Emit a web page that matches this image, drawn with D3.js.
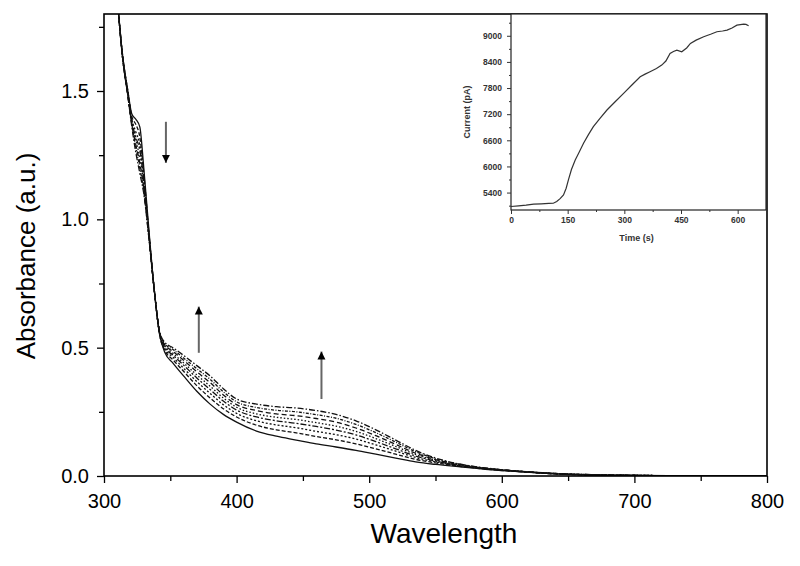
<!DOCTYPE html>
<html><head><meta charset="utf-8">
<script src="https://cdn.jsdelivr.net/npm/d3@7"></script>
<style>body{margin:0;background:#fff}svg{display:block}text{font-family:"Liberation Sans",Arial,sans-serif}</style>
</head><body><svg id="c" width="800" height="566"></svg>
<script>
// ---- main spectra data ----
const wavelengths = [306,310,314,318,321,324,327,330,334,338,342,346,352,360,370,380,390,400,415,430,445,460,475,490,505,520,535,550,570,590,610,640,680,740,800];
const spectrum0 = [2.10,1.86,1.64,1.50,1.41,1.39,1.36,1.20,0.95,0.72,0.55,0.48,0.44,0.39,0.33,0.28,0.24,0.21,0.175,0.155,0.14,0.125,0.113,0.10,0.085,0.07,0.055,0.045,0.035,0.025,0.018,0.008,0.003,0.001,0];
const spectrum1 = [2.10,1.86,1.64,1.50,1.40,1.37,1.32,1.18,0.94,0.72,0.55,0.489,0.453,0.408,0.352,0.304,0.262,0.230,0.198,0.180,0.168,0.154,0.141,0.125,0.106,0.085,0.065,0.051,0.037,0.026,0.018,0.008,0.003,0.001,0];
const spectrum2 = [2.10,1.86,1.64,1.49,1.39,1.34,1.29,1.16,0.94,0.72,0.55,0.495,0.463,0.420,0.368,0.322,0.278,0.244,0.215,0.199,0.188,0.174,0.161,0.144,0.121,0.097,0.072,0.055,0.039,0.027,0.019,0.009,0.003,0.001,0];
const spectrum3 = [2.10,1.86,1.63,1.49,1.38,1.32,1.27,1.15,0.93,0.72,0.555,0.501,0.471,0.432,0.382,0.337,0.292,0.257,0.230,0.215,0.205,0.193,0.179,0.160,0.134,0.106,0.078,0.058,0.040,0.028,0.019,0.009,0.003,0.001,0];
const spectrum4 = [2.10,1.86,1.63,1.49,1.38,1.31,1.24,1.14,0.93,0.72,0.555,0.506,0.478,0.441,0.394,0.350,0.304,0.268,0.242,0.229,0.220,0.208,0.194,0.174,0.146,0.115,0.084,0.061,0.041,0.028,0.019,0.009,0.004,0.001,0];
const spectrum5 = [2.10,1.86,1.63,1.48,1.37,1.29,1.22,1.12,0.93,0.72,0.56,0.510,0.486,0.451,0.406,0.364,0.316,0.278,0.255,0.242,0.235,0.224,0.210,0.187,0.157,0.123,0.089,0.064,0.043,0.029,0.020,0.010,0.004,0.001,0];
const spectrum6 = [2.10,1.86,1.63,1.48,1.37,1.28,1.20,1.11,0.92,0.72,0.56,0.515,0.493,0.460,0.418,0.377,0.328,0.289,0.267,0.256,0.250,0.239,0.225,0.201,0.169,0.132,0.095,0.067,0.044,0.029,0.020,0.010,0.004,0.001,0];
const spectrum7 = [2.10,1.86,1.63,1.48,1.36,1.26,1.18,1.10,0.92,0.72,0.56,0.52,0.50,0.47,0.43,0.39,0.34,0.30,0.28,0.27,0.265,0.255,0.24,0.215,0.18,0.14,0.10,0.07,0.045,0.03,0.020,0.010,0.004,0.001,0];
const spectra = [spectrum0,spectrum1,spectrum2,spectrum3,spectrum4,spectrum5,spectrum6,spectrum7];
const dashes = [null,"4,2","2,2","6,2,2,2","1.5,2","5,3","3,1.5,1,1.5","6,2,1.5,2"];
const xTicks = [300,400,500,600,700,800];
const yTicks = [0.0,0.5,1.0,1.5];
// arrows: [wavelength, from absorbance, to absorbance]
const arrows = [[346.7,1.38,1.22],[371.5,0.48,0.66],[464,0.30,0.485]];

// ---- inset data ----
const insetTime = [0,20,40,60,80,100,112,121,130,139,146,152,160,170,180,192,205,218,235,254,275,298,320,342,355,368,385,399,410,421,430,439,452,465,475,490,510,530,545,560,572,585,598,607,616,622,629];
const insetCurrent = [5080,5095,5110,5133,5140,5150,5155,5194,5260,5346,5500,5690,5930,6149,6320,6531,6730,6913,7100,7296,7480,7678,7870,8060,8120,8175,8250,8327,8420,8595,8640,8671,8633,8720,8824,8900,8977,9040,9092,9110,9130,9180,9244,9255,9267,9260,9229];
const insetXTicks = [0,150,300,450,600];
const insetYTicks = [5400,6000,6600,7200,7800,8400,9000];

const svg = d3.select("#c");
const X0=104, X1=767, Y0=476, Y1=14;
const x = d3.scaleLinear().domain([300,800]).range([X0,X1]);
const y = d3.scaleLinear().domain([0,1.8]).range([Y0,Y1]);

svg.append("defs").append("clipPath").attr("id","clip").append("rect")
  .attr("x",X0).attr("y",Y1).attr("width",X1-X0).attr("height",Y0-Y1);
svg.append("defs").append("marker").attr("id","ah").attr("viewBox","0 0 10 10")
  .attr("refX",10).attr("refY",5).attr("markerWidth",8).attr("markerHeight",12)
  .attr("markerUnits","userSpaceOnUse").attr("orient","auto")
  .append("path").attr("d","M0,0 L10,5 L0,10 Z").attr("fill","#000");

const line = d3.line().x((d,i)=>x(wavelengths[i])).y(d=>y(d)).curve(d3.curveMonotoneX);
const g = svg.append("g").attr("clip-path","url(#clip)");
spectra.forEach((s,i)=>{
  g.append("path").attr("d",line(s)).attr("fill","none").attr("stroke","#111")
   .attr("stroke-width",1.3).attr("stroke-dasharray",dashes[i]);
});

arrows.forEach(a=>{
  svg.append("line").attr("x1",x(a[0])).attr("x2",x(a[0])).attr("y1",y(a[1])).attr("y2",y(a[2]))
    .attr("stroke","#666").attr("stroke-width",2).attr("marker-end","url(#ah)");
});

// axes
const xAxis = d3.axisBottom(x).tickValues(xTicks).tickSize(7).tickFormat(d3.format("d"));
const xMinor = d3.axisBottom(x).tickValues([350,450,550,650,750]).tickSize(5).tickFormat("");
const yAxis = d3.axisLeft(y).tickValues(yTicks).tickSize(7).tickFormat(d3.format(".1f"));
const yMinor = d3.axisLeft(y).tickValues([0.25,0.75,1.25,1.75]).tickSize(5).tickFormat("");
function style(sel,fs){
  sel.select(".domain").remove();
  sel.selectAll("line").attr("stroke","#000").attr("stroke-width",1.3);
  sel.selectAll("text").attr("font-size",fs).attr("fill","#000");
}
svg.append("g").attr("transform",`translate(0,${Y0})`).call(xAxis).call(s=>style(s,20)).selectAll("text").attr("y",32).attr("dy",0);
svg.append("g").attr("transform",`translate(0,${Y0})`).call(xMinor).call(s=>style(s,20));
svg.append("g").attr("transform",`translate(${X0},0)`).call(yAxis).call(s=>style(s,20)).selectAll("text").attr("x",-15);
svg.append("g").attr("transform",`translate(${X0},0)`).call(yMinor).call(s=>style(s,20));
svg.append("rect").attr("x",X0).attr("y",Y1).attr("width",X1-X0).attr("height",Y0-Y1)
  .attr("fill","none").attr("stroke","#000").attr("stroke-width",1.6);

svg.append("text").attr("x",444).attr("y",543).attr("text-anchor","middle")
  .attr("font-size",28).text("Wavelength");
svg.append("text").attr("transform",`translate(35,256) rotate(-90)`).attr("text-anchor","middle")
  .attr("font-size",26).text("Absorbance (a.u.)");

// ---- inset ----
const IX0=511, IX1=766, IY0=210, IY1=14;
const ix = d3.scaleLinear().domain([0,675]).range([IX0,IX1]);
const iy = d3.scaleLinear().domain([5000,9500]).range([IY0,IY1]);
svg.append("rect").attr("x",IX0).attr("y",IY1).attr("width",IX1-IX0).attr("height",IY0-IY1)
  .attr("fill","#fff").attr("stroke","#222").attr("stroke-width",1.2);
const il = d3.line().x((d,i)=>ix(insetTime[i])).y(d=>iy(d));
svg.append("path").attr("d",il(insetCurrent)).attr("fill","none").attr("stroke","#333").attr("stroke-width",1.2);
function istyle(sel){
  sel.select(".domain").remove();
  sel.selectAll("line").attr("stroke","#333").attr("stroke-width",1);
  sel.selectAll("text").attr("font-size",8.5).attr("font-weight","bold").attr("fill","#333");
}
svg.append("g").attr("transform",`translate(0,${IY0})`).call(d3.axisBottom(ix).tickValues(insetXTicks).tickSize(4).tickPadding(3)).call(istyle);
svg.append("g").attr("transform",`translate(0,${IY0})`).call(d3.axisBottom(ix).tickValues([75,225,375,525,675]).tickSize(2).tickFormat("")).call(istyle);
svg.append("g").attr("transform",`translate(${IX0},0)`).call(d3.axisLeft(iy).tickValues(insetYTicks).tickSize(4).tickPadding(5).tickFormat(d3.format("d"))).call(istyle);
svg.append("g").attr("transform",`translate(${IX0},0)`).call(d3.axisLeft(iy).tickValues([5100,5700,6300,6900,7500,8100,8700,9300]).tickSize(2).tickFormat("")).call(istyle);
svg.append("text").attr("x",(IX0+IX1)/2-2).attr("y",241).attr("text-anchor","middle")
  .attr("font-size",9).attr("font-weight","bold").attr("fill","#333").text("Time (s)");
svg.append("text").attr("transform",`translate(470,${(IY0+IY1)/2}) rotate(-90)`).attr("text-anchor","middle")
  .attr("font-size",9).attr("font-weight","bold").attr("fill","#333").text("Current (pA)");
</script></body></html>
